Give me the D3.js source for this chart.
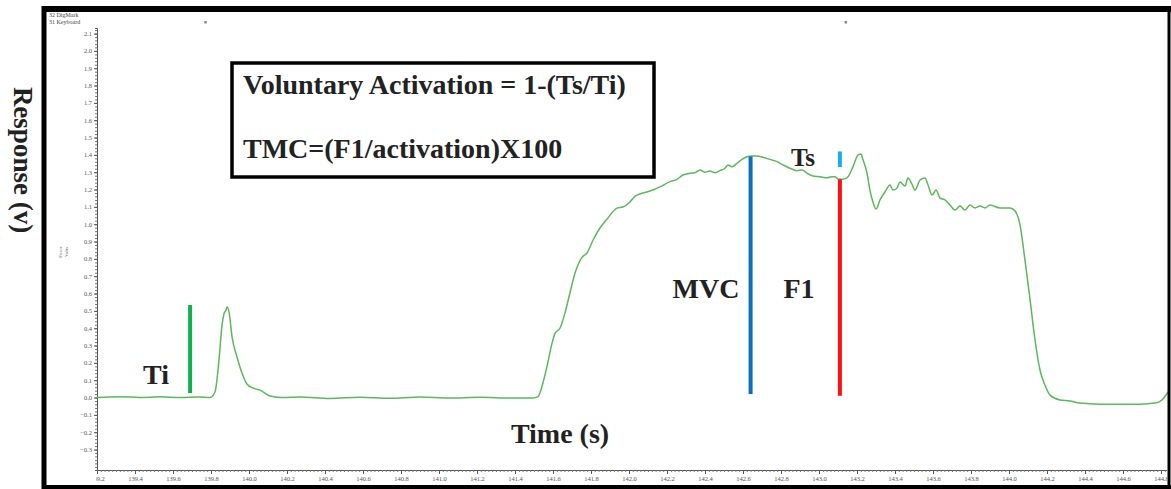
<!DOCTYPE html>
<html>
<head>
<meta charset="utf-8">
<script src="https://cdn.jsdelivr.net/npm/d3@7"></script>
<style>
  body { margin: 0; background: #fff; }
  svg { display: block; }
  .tick text { font-family: 'Liberation Serif', serif; fill: #555; }
</style>
</head>
<body>
<div id="main"></div>
<script>
// force trace, seconds / volts
const times = [139.200, 139.321, 139.426, 139.532, 139.637, 139.742, 139.795, 139.821, 139.842, 139.858,
  139.868, 139.879, 139.884, 139.895, 139.911, 139.937, 139.963, 139.989, 140.021, 140.058,
  140.111, 140.179, 140.268, 140.426, 140.584, 140.742, 140.900, 141.058, 141.216, 141.374,
  141.495, 141.521, 141.547, 141.568, 141.595, 141.611, 141.637, 141.663, 141.689, 141.716,
  141.753, 141.779, 141.811, 141.847, 141.889, 141.937, 141.968, 142.005, 142.032, 142.074,
  142.126, 142.163, 142.216, 142.253, 142.284, 142.321, 142.347, 142.374, 142.400, 142.426,
  142.453, 142.479, 142.505, 142.521, 142.542, 142.568, 142.595, 142.621, 142.647, 142.674,
  142.705, 142.742, 142.779, 142.811, 142.847, 142.884, 142.911, 142.937, 142.968, 143.005,
  143.042, 143.068, 143.084, 143.100, 143.126, 143.153, 143.179, 143.205, 143.221, 143.232,
  143.253, 143.268, 143.284, 143.300, 143.321, 143.347, 143.374, 143.389, 143.411, 143.426,
  143.453, 143.468, 143.489, 143.505, 143.532, 143.558, 143.574, 143.595, 143.616, 143.637,
  143.663, 143.689, 143.716, 143.742, 143.768, 143.795, 143.821, 143.847, 143.874, 143.900,
  143.953, 144.005, 144.032, 144.058, 144.084, 144.111, 144.137, 144.163, 144.189, 144.216,
  144.268, 144.321, 144.374, 144.479, 144.584, 144.689, 144.768, 144.805, 144.837];
const volts = [0.000, 0.005, 0.000, 0.004, 0.000, 0.003, 0.000, 0.032, 0.216, 0.418,
  0.482, 0.505, 0.522, 0.493, 0.349, 0.234, 0.141, 0.078, 0.055, 0.043,
  0.009, 0.000, 0.003, -0.005, 0.002, -0.004, 0.003, -0.003, 0.002, -0.003,
  -0.003, 0.005, 0.084, 0.178, 0.314, 0.372, 0.401, 0.488, 0.603, 0.718,
  0.810, 0.834, 0.909, 0.978, 1.036, 1.093, 1.099, 1.128, 1.162, 1.180,
  1.197, 1.215, 1.246, 1.259, 1.284, 1.294, 1.297, 1.313, 1.300, 1.307,
  1.297, 1.309, 1.323, 1.342, 1.332, 1.351, 1.374, 1.389, 1.394, 1.394,
  1.386, 1.374, 1.361, 1.342, 1.323, 1.309, 1.313, 1.294, 1.278, 1.274,
  1.268, 1.274, 1.274, 1.261, 1.259, 1.274, 1.332, 1.399, 1.405, 1.370,
  1.294, 1.197, 1.128, 1.088, 1.140, 1.186, 1.226, 1.197, 1.209, 1.244,
  1.220, 1.266, 1.232, 1.197, 1.255, 1.266, 1.226, 1.168, 1.197, 1.151,
  1.140, 1.111, 1.082, 1.105, 1.082, 1.111, 1.094, 1.105, 1.094, 1.111,
  1.094, 1.094, 1.076, 0.996, 0.794, 0.563, 0.332, 0.159, 0.072, 0.014,
  -0.014, -0.020, -0.032, -0.038, -0.038, -0.038, -0.032, -0.014, 0.032];

// annotation bars: [time, from, to]
const markerNames = ['Ti', 'MVC', 'F1', 'Ts'];
const markerTimes = [139.69, 142.64, 143.11, 143.11];
const markerLow = [0.026, 0.02, 0.01, 1.33];
const markerHigh = [0.534, 1.39, 1.26, 1.42];
const markerColors = ['#12b04c', '#0b6fc0', '#ff1010', '#16aef0'];

const eventTimes = [139.77, 143.14];
const channelNames = ['32 DigMark', '31 Keyboard'];

const width = 1171, height = 489;
const svg = d3.select('#main').append('svg')
    .attr('width', width)
    .attr('height', height);

const x = d3.scaleLinear().domain([139.2, 144.85]).range([97, 97 + 5.65 * 190]);
const y = d3.scaleLinear().domain([-0.418, 2.132]).range([470, 28]);

// clip for the x axis labels
svg.append('clipPath').attr('id', 'xclip')
    .append('rect').attr('x', 96).attr('y', 460).attr('width', 1071).attr('height', 30);

// y axis, minor then major
const yMinor = d3.range(-0.40, 2.13, 0.02);
svg.append('g')
    .attr('transform', 'translate(97,0)')
    .call(d3.axisLeft(y).tickValues(yMinor).tickSize(2).tickFormat(''))
    .call(g => g.selectAll('line').attr('stroke', '#777'))
    .call(g => g.select('.domain').attr('stroke', '#555'));
svg.append('g')
    .attr('transform', 'translate(97,0)')
    .call(d3.axisLeft(y).tickValues(d3.range(-3, 22).map(d => d / 10)).tickSize(3).tickPadding(2)
        .tickFormat(d3.format('.1f')))
    .call(g => g.select('.domain').remove())
    .call(g => g.selectAll('line').attr('stroke', '#555'))
    .call(g => g.selectAll('text').attr('font-size', 6.5));

// x axis
const xAxisG = svg.append('g').attr('clip-path', 'url(#xclip)');
xAxisG.append('g')
    .attr('transform', 'translate(0,470)')
    .call(d3.axisBottom(x).tickValues(d3.range(6960, 7243, 1).map(d => d / 50)).tickSize(2).tickFormat(''))
    .call(g => g.selectAll('line').attr('stroke', '#777'))
    .call(g => g.select('.domain').attr('stroke', '#555'));
xAxisG.append('g')
    .attr('transform', 'translate(0,470)')
    .call(d3.axisBottom(x).tickValues(d3.range(696, 725, 1).map(d => d / 5)).tickSize(4).tickPadding(2)
        .tickFormat(d3.format('.1f')))
    .call(g => g.select('.domain').remove())
    .call(g => g.selectAll('line').attr('stroke', '#555'))
    .call(g => g.selectAll('text').attr('font-size', 6.5));

// trace
const trace = times.map((t, i) => ({t: t, v: volts[i]}));
svg.append('path')
    .datum(trace)
    .attr('fill', 'none')
    .attr('stroke', '#5cb85a')
    .attr('stroke-width', 1.5)
    .attr('d', d3.line().curve(d3.curveMonotoneX).x(d => x(d.t)).y(d => y(d.v)));

// annotation bars
markerNames.forEach((n, i) => {
    svg.append('line')
        .attr('x1', x(markerTimes[i])).attr('x2', x(markerTimes[i]))
        .attr('y1', y(markerLow[i])).attr('y2', y(markerHigh[i]))
        .attr('stroke', markerColors[i])
        .attr('stroke-width', 4);
});

// event marks and channel names
eventTimes.forEach(t => {
    svg.append('rect').attr('x', x(t) - 1).attr('y', 21).attr('width', 2.5).attr('height', 2.5).attr('fill', '#888');
});
channelNames.forEach((n, i) => {
    svg.append('text').attr('x', 49).attr('y', 17 + i * 7)
        .attr('font-family', 'Liberation Serif, serif').attr('font-size', 6).attr('fill', '#444')
        .text(n);
});
svg.append('text')
    .attr('transform', 'translate(62,252) rotate(-90)')
    .attr('text-anchor', 'middle')
    .attr('font-family', 'Liberation Serif, serif').attr('font-size', 5).attr('fill', '#555')
    .text('Force');
svg.append('text')
    .attr('transform', 'translate(68,252) rotate(-90)')
    .attr('text-anchor', 'middle')
    .attr('font-family', 'Liberation Serif, serif').attr('font-size', 5).attr('fill', '#555')
    .text('Volts');

// formula box
svg.append('rect')
    .attr('x', 232).attr('y', 63).attr('width', 422).attr('height', 114)
    .attr('fill', '#fff').attr('stroke', '#000').attr('stroke-width', 3.5);

const serif = 'Liberation Serif, Times New Roman, serif';
function label(txt, px, py, size, extra) {
    const t = svg.append('text')
        .attr('x', px).attr('y', py)
        .attr('font-family', serif)
        .attr('font-weight', 'bold')
        .attr('font-size', size)
        .attr('fill', '#222')
        .text(txt);
    if (extra) extra(t);
    return t;
}
label('Voluntary Activation = 1-(Ts/Ti)', 243, 94, 28);
label('TMC=(F1/activation)X100', 243, 158, 28);
label('Ti', 156, 384, 28, t => t.attr('text-anchor', 'middle'));
label('MVC', 706, 298, 28, t => t.attr('text-anchor', 'middle'));
label('F1', 799, 298, 28, t => t.attr('text-anchor', 'middle'));
label('Ts', 803, 166, 25, t => t.attr('text-anchor', 'middle'));
label('Time (s)', 560, 443, 28, t => t.attr('text-anchor', 'middle'));
label('Response (v)', 0, 0, 27, t => t.attr('text-anchor', 'middle').attr('transform', 'translate(14,160) rotate(90)'));

// frame
svg.append('line').attr('x1', 44).attr('x2', 44).attr('y1', 6).attr('y2', 489).attr('stroke', '#000').attr('stroke-width', 5);
svg.append('line').attr('x1', 42).attr('x2', 1171).attr('y1', 9).attr('y2', 9).attr('stroke', '#000').attr('stroke-width', 6);
svg.append('line').attr('x1', 1169).attr('x2', 1169).attr('y1', 6).attr('y2', 489).attr('stroke', '#000').attr('stroke-width', 3);
svg.append('line').attr('x1', 42).attr('x2', 1171).attr('y1', 487).attr('y2', 487).attr('stroke', '#000').attr('stroke-width', 4);
</script>
</body>
</html>
